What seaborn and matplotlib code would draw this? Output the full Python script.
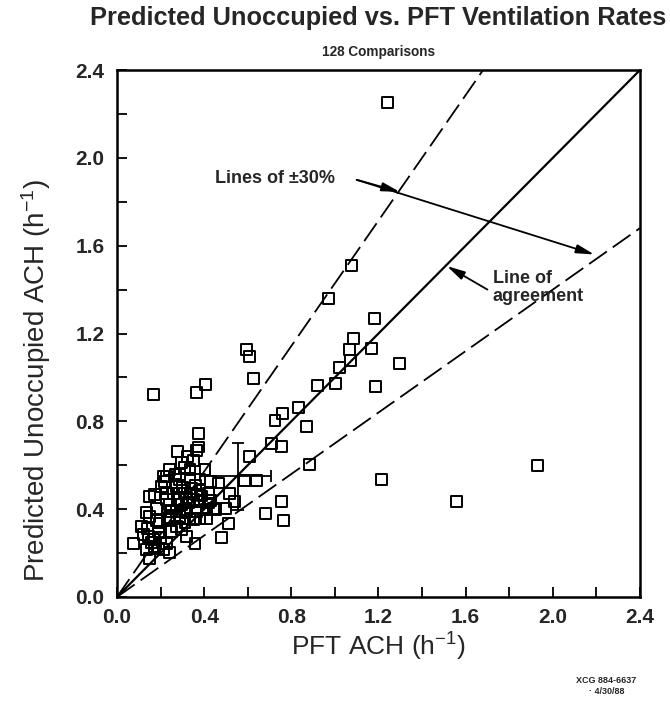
import numpy as np
import pandas as pd
import matplotlib
matplotlib.use("Agg")
import matplotlib.pyplot as plt
import seaborn as sns

# ---- data ----
pft_ach = [
    1.24, 1.077, 0.97, 1.18, 1.087, 1.066, 1.168, 1.072, 1.02, 1.295,
    0.919, 1.003, 1.188, 0.832, 0.76, 0.725, 0.87, 0.71, 0.755, 0.606,
    0.882, 1.214, 1.558, 1.93, 0.755, 0.763, 0.682, 0.595, 0.61, 0.628,
    0.167, 0.366, 0.408, 0.376, 0.587, 0.64, 0.541, 0.5, 0.51, 0.48, 0.518,
    0.277, 0.323, 0.375, 0.366, 0.297, 0.243, 0.335, 0.404, 0.228,
    0.289, 0.213, 0.335, 0.22, 0.289, 0.427, 0.465, 0.381,
    0.205, 0.274, 0.343, 0.381, 0.151, 0.174, 0.228, 0.289, 0.335, 0.366,
    0.228, 0.281, 0.32, 0.35, 0.381, 0.419, 0.297, 0.243,
    0.136, 0.251, 0.274, 0.32, 0.366, 0.411, 0.442, 0.182,
    0.151, 0.243, 0.289, 0.335, 0.381, 0.411, 0.197, 0.274, 0.312, 0.35, 0.113,
    0.144, 0.167, 0.228, 0.297, 0.32, 0.358, 0.19, 0.121,
    0.075, 0.19, 0.213, 0.243, 0.151, 0.174, 0.136,
    0.16, 0.20, 0.25, 0.31, 0.33, 0.26, 0.30, 0.36, 0.39, 0.42, 0.24, 0.18,
    0.14, 0.27, 0.31, 0.35, 0.43, 0.45,
]
pred_ach = [
    2.25, 1.51, 1.36, 1.27, 1.177, 1.128, 1.131, 1.079, 1.044, 1.064,
    0.963, 0.971, 0.96, 0.862, 0.836, 0.805, 0.778, 0.70, 0.686, 0.641,
    0.603, 0.534, 0.435, 0.60, 0.435, 0.348, 0.379, 1.128, 1.097, 0.995,
    0.922, 0.933, 0.968, 0.744, 0.531, 0.531, 0.435, 0.405, 0.336, 0.272, 0.473,
    0.663, 0.641, 0.683, 0.668, 0.613, 0.58, 0.58, 0.58, 0.549,
    0.557, 0.549, 0.542, 0.526, 0.534, 0.526, 0.519, 0.534,
    0.504, 0.504, 0.496, 0.489, 0.458, 0.466, 0.473, 0.473, 0.473, 0.466,
    0.443, 0.443, 0.451, 0.443, 0.435, 0.428, 0.42, 0.42,
    0.385, 0.389, 0.389, 0.389, 0.389, 0.397, 0.405, 0.405,
    0.367, 0.352, 0.367, 0.359, 0.359, 0.359, 0.337, 0.322, 0.337, 0.352, 0.322,
    0.276, 0.26, 0.245, 0.306, 0.276, 0.245, 0.298, 0.283,
    0.242, 0.222, 0.215, 0.203, 0.177, 0.23, 0.215,
    0.25, 0.27, 0.30, 0.40, 0.43, 0.47, 0.50, 0.51, 0.46, 0.47, 0.36, 0.35,
    0.31, 0.56, 0.59, 0.62, 0.44, 0.40,
]

# mean +/- spread cross drawn in the cluster
err_x, err_y = 0.557, 0.549
err_x_lo, err_x_hi = 0.176, 0.149
err_y_lo, err_y_hi = 0.152, 0.150

# reference lines: agreement and +/-30 %
line_slopes = [1.0, 1 / 0.7, 0.7]
line_styles = ["solid", "dashed", "dashed"]

x_ticks = [0.0, 0.4, 0.8, 1.2, 1.6, 2.0, 2.4]
y_ticks = [0.0, 0.4, 0.8, 1.2, 1.6, 2.0, 2.4]
ax_max = 2.4

sns.set_theme(style="ticks")
plt.rcParams["font.family"] = ["Liberation Sans", "DejaVu Sans"]
plt.rcParams["mathtext.fontset"] = "custom"
plt.rcParams["mathtext.rm"] = "Liberation Sans"
plt.rcParams["mathtext.it"] = "Liberation Sans:italic"
plt.rcParams["mathtext.bf"] = "Liberation Sans:bold"

fig = plt.figure(figsize=(6.7, 7.01), dpi=100)
ax = fig.add_axes([0.1746, 0.1484, 0.7806, 0.7517])

df = pd.DataFrame({"PFT": pft_ach, "Pred": pred_ach})

# reference lines
for slope, style in zip(line_slopes, line_styles):
    x_end = min(ax_max, ax_max / slope)
    ldf = pd.DataFrame({"x": [0.0, x_end], "y": [0.0, slope * x_end]})
    if style == "solid":
        sns.lineplot(data=ldf, x="x", y="y", ax=ax, color="black", lw=1.6)
    else:
        sns.lineplot(data=ldf, x="x", y="y", ax=ax, color="black", lw=1.3,
                     dashes=False, linestyle=(0, (12, 4)))

sns.scatterplot(data=df, x="PFT", y="Pred", ax=ax, marker="s", s=62,
                facecolor="none", edgecolor="black", linewidth=1.4, zorder=3)

ax.errorbar([err_x], [err_y], xerr=[[err_x_lo], [err_x_hi]],
            yerr=[[err_y_lo], [err_y_hi]], fmt="none", ecolor="black",
            elinewidth=1.3, capsize=4, capthick=1.3, zorder=4)

ax.set_xlim(0, ax_max)
ax.set_ylim(0, ax_max)
ax.set_xticks(x_ticks)
ax.set_yticks(y_ticks)
ax.set_xticklabels([f"{t:.1f}" for t in x_ticks])
ax.set_yticklabels([f"{t:.1f}" for t in y_ticks])
ax.set_xticks(np.arange(0.2, 2.4, 0.4), minor=True)
ax.set_yticks(np.arange(0.2, 2.4, 0.4), minor=True)
ax.tick_params(which="both", direction="in", length=7, width=1.3, color="black")
ax.tick_params(axis="x", which="major", pad=8, labelsize=15)
ax.tick_params(axis="y", which="major", pad=9, labelsize=15)
for lab in ax.get_xticklabels() + ax.get_yticklabels():
    lab.set_fontweight("bold")
for sp in ax.spines.values():
    sp.set_linewidth(1.8)
    sp.set_color("black")
    sp.set_visible(True)

ax.set_xlabel("PFT ACH (h$^{\\mathregular{-1}}$)", fontsize=19, labelpad=3)
ax.set_ylabel("Predicted Unoccupied ACH (h$^{\\mathregular{-1}}$)", fontsize=20)
ax.yaxis.set_label_coords(-0.122, 0.41)

fig.text(0.565, 0.974, "Predicted Unoccupied vs. PFT Ventilation Rates",
         ha="center", va="center", fontsize=18.3, fontweight="bold")
fig.text(0.565, 0.926, "128 Comparisons", ha="center", va="center",
         fontsize=9.8, fontweight="bold")

# annotations
ax.text(0.45, 1.905, "Lines of \u00b130%", fontsize=13, fontweight="bold",
        va="center", ha="left")
arrow = dict(arrowstyle="-|>,head_length=0.9,head_width=0.22", color="black",
             lw=1.3, shrinkA=0, shrinkB=0)
ax.annotate("", xy=(2.19, 1.56), xytext=(1.10, 1.90), arrowprops=arrow)
ax.annotate("", xy=(1.298, 1.845), xytext=(1.10, 1.90), arrowprops=arrow)

ax.text(1.725, 1.41, "Line of\nagreement", fontsize=13, fontweight="bold",
        va="center", ha="left", linespacing=1.05)
ax.annotate("", xy=(1.514, 1.507), xytext=(1.70, 1.40), arrowprops=arrow)

fig.text(0.905, 0.029, "XCG 884-6637", ha="center", va="center",
         fontsize=6.5, fontweight="bold")
fig.text(0.905, 0.014, "\u00b7 4/30/88", ha="center", va="center",
         fontsize=6.5, fontweight="bold")

fig.savefig("out.png", dpi=100)
